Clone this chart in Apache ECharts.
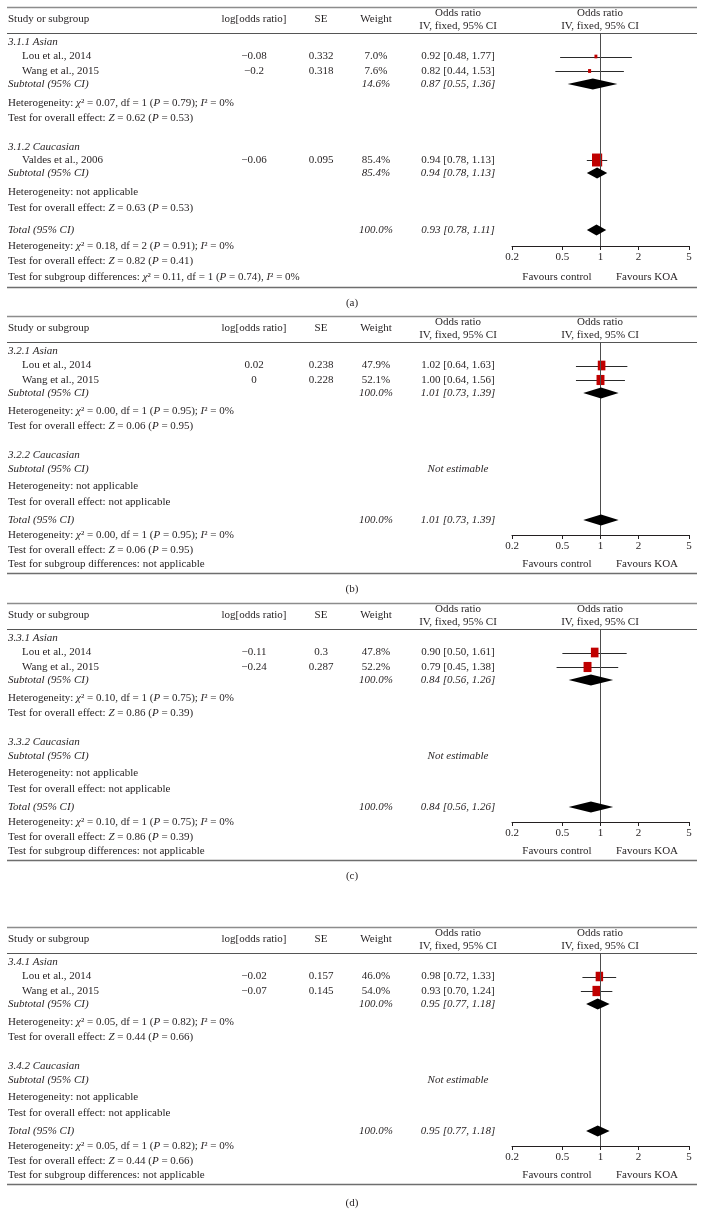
<!DOCTYPE html>
<html>
<head>
<meta charset="utf-8">
<script src="https://cdn.jsdelivr.net/npm/echarts@6/dist/echarts.min.js"></script>
<style>
html,body{margin:0;padding:0;background:#fff;}
#chart{width:704px;height:1229px;}
</style>
</head>
<body>
<div id="chart"></div>
<script>
// ---------------- DATA ----------------
const panelTags = ['(a)', '(b)', '(c)', '(d)'];
const subgroupLabels = [
  ['3.1.1 Asian', '3.1.2 Caucasian'],
  ['3.2.1 Asian', '3.2.2 Caucasian'],
  ['3.3.1 Asian', '3.3.2 Caucasian'],
  ['3.4.1 Asian', '3.4.2 Caucasian']
];
const studyNames = [
  ['Lou et al., 2014', 'Wang et al., 2015', 'Valdes et al., 2006'],
  ['Lou et al., 2014', 'Wang et al., 2015'],
  ['Lou et al., 2014', 'Wang et al., 2015'],
  ['Lou et al., 2014', 'Wang et al., 2015']
];
const studySubgroup = [[0, 0, 1], [0, 0], [0, 0], [0, 0]];
const logOddsRatio = [[-0.08, -0.2, -0.06], [0.02, 0], [-0.11, -0.24], [-0.02, -0.07]];
const standardError = [[0.332, 0.318, 0.095], [0.238, 0.228], [0.3, 0.287], [0.157, 0.145]];
const studyWeight = [[7.0, 7.6, 85.4], [47.9, 52.1], [47.8, 52.2], [46.0, 54.0]];
const studyOR = [[0.92, 0.82, 0.94], [1.02, 1.00], [0.90, 0.79], [0.98, 0.93]];
const studyLower = [[0.48, 0.44, 0.78], [0.64, 0.64], [0.50, 0.45], [0.72, 0.70]];
const studyUpper = [[1.77, 1.53, 1.13], [1.63, 1.56], [1.61, 1.38], [1.33, 1.24]];

const subtotalWeight = [[14.6, 85.4], [100.0, null], [100.0, null], [100.0, null]];
const subtotalOR = [[0.87, 0.94], [1.01, null], [0.84, null], [0.95, null]];
const subtotalLower = [[0.55, 0.78], [0.73, null], [0.56, null], [0.77, null]];
const subtotalUpper = [[1.36, 1.13], [1.39, null], [1.26, null], [1.18, null]];
const subgroupHeterogeneity = [
  ['{i|χ}² = 0.07, df = 1 ({i|P} = 0.79); {i|I}² = 0%', 'not applicable'],
  ['{i|χ}² = 0.00, df = 1 ({i|P} = 0.95); {i|I}² = 0%', 'not applicable'],
  ['{i|χ}² = 0.10, df = 1 ({i|P} = 0.75); {i|I}² = 0%', 'not applicable'],
  ['{i|χ}² = 0.05, df = 1 ({i|P} = 0.82); {i|I}² = 0%', 'not applicable']
];
const subgroupEffect = [
  ['{i|Z} = 0.62 ({i|P} = 0.53)', '{i|Z} = 0.63 ({i|P} = 0.53)'],
  ['{i|Z} = 0.06 ({i|P} = 0.95)', 'not applicable'],
  ['{i|Z} = 0.86 ({i|P} = 0.39)', 'not applicable'],
  ['{i|Z} = 0.44 ({i|P} = 0.66)', 'not applicable']
];

const totalWeight = [100.0, 100.0, 100.0, 100.0];
const totalOR = [0.93, 1.01, 0.84, 0.95];
const totalLower = [0.78, 0.73, 0.56, 0.77];
const totalUpper = [1.11, 1.39, 1.26, 1.18];
const totalHeterogeneity = [
  '{i|χ}² = 0.18, df = 2 ({i|P} = 0.91); {i|I}² = 0%',
  '{i|χ}² = 0.00, df = 1 ({i|P} = 0.95); {i|I}² = 0%',
  '{i|χ}² = 0.10, df = 1 ({i|P} = 0.75); {i|I}² = 0%',
  '{i|χ}² = 0.05, df = 1 ({i|P} = 0.82); {i|I}² = 0%'
];
const totalEffect = [
  '{i|Z} = 0.82 ({i|P} = 0.41)',
  '{i|Z} = 0.06 ({i|P} = 0.95)',
  '{i|Z} = 0.86 ({i|P} = 0.39)',
  '{i|Z} = 0.44 ({i|P} = 0.66)'
];
const subgroupDifferences = [
  '{i|χ}² = 0.11, df = 1 ({i|P} = 0.74), {i|I}² = 0%',
  'not applicable',
  'not applicable',
  'not applicable'
];

const tickValues = [0.2, 0.5, 1, 2, 5];
const favoursLabels = ['Favours control', 'Favours KOA'];
const columnHeaders = ['Study or subgroup', 'log[odds ratio]', 'SE', 'Weight'];
const orHeader = ['Odds ratio', 'IV, fixed, 95% CI'];

// ---------------- LAYOUT / STYLE ----------------
const FONT = '"Liberation Serif", "DejaVu Serif", serif';
const FS = 11;
const INK = '#231f20';
const RED = '#c00000';
const panelTop = [7, 316, 603, 927];
const captionGap = [16, 16, 16, 19];
const layoutA = { rows: [35, 49.5, 64, 77, 96, 111, 140, 153, 166, 185, 201, 223, 239, 254, 270], bottom: 280 };
const layoutB = { rows: [35, 49.5, 64, 77, 95, 110, 139, 153, 170, 186, 204, 219, 234, 248], bottom: 257 };
const panelLayouts = [layoutA, layoutB, layoutB, layoutB];
const COL = { study: 8, indent: 22, logOR: 254, se: 321, weight: 376, or: 458, plot: 600 };
const PLOT_LEFT = 512, PLOT_WIDTH = 177;
const HEADER_BOTTOM = 26;
const LINE_L = 7, LINE_R = 697;

const RICH = {
  i: { fontFamily: FONT, fontSize: FS, fontStyle: 'italic', fill: INK },
  n: { fontFamily: FONT, fontSize: FS, fontStyle: 'normal', fill: INK }
};

function txt(x, y, text, align, italic) {
  return {
    type: 'text', x: x, y: y, silent: true, z: 10,
    style: {
      text: text, fontFamily: FONT, fontSize: FS, fontStyle: italic ? 'italic' : 'normal',
      fill: INK, align: align || 'left', verticalAlign: 'middle', rich: RICH
    }
  };
}
function hline(y, color, w) {
  return { type: 'line', silent: true, z: 5, shape: { x1: LINE_L, y1: y, x2: LINE_R, y2: y }, style: { stroke: color, lineWidth: w } };
}
function fmtSigned(v) { return (v < 0 ? '\u2212' : '') + String(Math.abs(v)); }
function fmtCI(o, l, h) { return o.toFixed(2) + ' [' + l.toFixed(2) + ', ' + h.toFixed(2) + ']'; }
function fmtW(w) { return w.toFixed(1) + '%'; }

function buildRows(p) {
  const rows = [];
  subgroupLabels[p].forEach(function (lab, g) {
    rows.push({ kind: 'group', g: g });
    studyNames[p].forEach(function (n, s) { if (studySubgroup[p][s] === g) rows.push({ kind: 'study', s: s }); });
    rows.push({ kind: 'sub', g: g });
    rows.push({ kind: 'het', g: g });
    rows.push({ kind: 'eff', g: g });
  });
  rows.push({ kind: 'total' }, { kind: 'thet' }, { kind: 'teff' }, { kind: 'tdiff' });
  rows.forEach(function (r, i) { r.off = panelLayouts[p].rows[i]; });
  return rows;
}

function studyRender(params, api) {
  const y = api.value(3);
  const lo = api.coord([api.value(1), y]);
  const hi = api.coord([api.value(2), y]);
  const c = api.coord([api.value(0), y]);
  const w = api.value(4);
  const sw = 1.1 * Math.sqrt(w), sh = 1.4 * Math.sqrt(w);
  return {
    type: 'group', children: [
      { type: 'line', shape: { x1: lo[0], y1: Math.round(lo[1]) + 0.5, x2: hi[0], y2: Math.round(hi[1]) + 0.5 }, style: { stroke: '#2a2a2a', lineWidth: 1 } },
      { type: 'rect', shape: { x: c[0] - sw / 2, y: c[1] - sh / 2, width: sw, height: sh }, style: { fill: RED } }
    ]
  };
}
function diamondRender(params, api) {
  const y = api.value(3);
  const l = api.coord([api.value(1), y]);
  const r = api.coord([api.value(2), y]);
  const c = api.coord([api.value(0), y]);
  const h = 5.5;
  return {
    type: 'polygon',
    shape: { points: [[l[0], c[1]], [c[0], c[1] - h], [r[0], c[1]], [c[0], c[1] + h]] },
    style: { fill: '#000' }
  };
}

const grids = [], xAxes = [], yAxes = [], series = [], graphics = [];

for (let p = 0; p < 4; p++) {
  const top = panelTop[p];
  const L = panelLayouts[p];
  const rows = buildRows(p);
  const axisOff = rows.find(function (r) { return r.kind === 'thet'; }).off;
  const tdiffOff = rows.find(function (r) { return r.kind === 'tdiff'; }).off;

  // header + rules
  graphics.push(hline(top + 0.5, '#8c8c8c', 1.3));
  graphics.push(hline(top + HEADER_BOTTOM + 0.5, '#555', 1));
  graphics.push(hline(top + L.bottom + 0.5, '#6e6e6e', 1.3));
  graphics.push(txt(COL.study, top + 12.5, columnHeaders[0], 'left'));
  graphics.push(txt(COL.logOR, top + 12.5, columnHeaders[1], 'center'));
  graphics.push(txt(COL.se, top + 12.5, columnHeaders[2], 'center'));
  graphics.push(txt(COL.weight, top + 12.5, columnHeaders[3], 'center'));
  graphics.push(txt(COL.or, top + 6.5, orHeader[0], 'center'));
  graphics.push(txt(COL.or, top + 19.5, orHeader[1], 'center'));
  graphics.push(txt(COL.plot, top + 6.5, orHeader[0], 'center'));
  graphics.push(txt(COL.plot, top + 19.5, orHeader[1], 'center'));
  graphics.push(txt(352, top + L.bottom + captionGap[p], panelTags[p], 'center'));

  const studyData = [], diamondData = [];
  rows.forEach(function (r) {
    const y = top + r.off;
    if (r.kind === 'group') {
      graphics.push(txt(COL.study, y, subgroupLabels[p][r.g], 'left', true));
    } else if (r.kind === 'study') {
      const s = r.s;
      graphics.push(txt(COL.indent, y, studyNames[p][s], 'left'));
      graphics.push(txt(COL.logOR, y, fmtSigned(logOddsRatio[p][s]), 'center'));
      graphics.push(txt(COL.se, y, String(standardError[p][s]), 'center'));
      graphics.push(txt(COL.weight, y, fmtW(studyWeight[p][s]), 'center'));
      graphics.push(txt(COL.or, y, fmtCI(studyOR[p][s], studyLower[p][s], studyUpper[p][s]), 'center'));
      studyData.push([studyOR[p][s], studyLower[p][s], studyUpper[p][s], r.off, studyWeight[p][s]]);
    } else if (r.kind === 'sub') {
      graphics.push(txt(COL.study, y, 'Subtotal (95% CI)', 'left', true));
      if (subtotalOR[p][r.g] !== null) {
        graphics.push(txt(COL.weight, y, fmtW(subtotalWeight[p][r.g]), 'center', true));
        graphics.push(txt(COL.or, y, fmtCI(subtotalOR[p][r.g], subtotalLower[p][r.g], subtotalUpper[p][r.g]), 'center', true));
        diamondData.push([subtotalOR[p][r.g], subtotalLower[p][r.g], subtotalUpper[p][r.g], r.off]);
      } else {
        graphics.push(txt(COL.or, y, 'Not estimable', 'center', true));
      }
    } else if (r.kind === 'het') {
      graphics.push(txt(COL.study, y, 'Heterogeneity: ' + subgroupHeterogeneity[p][r.g], 'left'));
    } else if (r.kind === 'eff') {
      graphics.push(txt(COL.study, y, 'Test for overall effect: ' + subgroupEffect[p][r.g], 'left'));
    } else if (r.kind === 'total') {
      graphics.push(txt(COL.study, y, 'Total (95% CI)', 'left', true));
      graphics.push(txt(COL.weight, y, fmtW(totalWeight[p]), 'center', true));
      graphics.push(txt(COL.or, y, fmtCI(totalOR[p], totalLower[p], totalUpper[p]), 'center', true));
      diamondData.push([totalOR[p], totalLower[p], totalUpper[p], r.off]);
    } else if (r.kind === 'thet') {
      graphics.push(txt(COL.study, y, 'Heterogeneity: ' + totalHeterogeneity[p], 'left'));
    } else if (r.kind === 'teff') {
      graphics.push(txt(COL.study, y, 'Test for overall effect: ' + totalEffect[p], 'left'));
    } else if (r.kind === 'tdiff') {
      graphics.push(txt(COL.study, y, 'Test for subgroup differences: ' + subgroupDifferences[p], 'left'));
    }
  });

  graphics.push(txt(557, top + tdiffOff, favoursLabels[0], 'center'));
  graphics.push(txt(647, top + tdiffOff, favoursLabels[1], 'center'));

  grids.push({ left: PLOT_LEFT, width: PLOT_WIDTH, top: top + HEADER_BOTTOM, height: axisOff - HEADER_BOTTOM });
  xAxes.push({
    gridIndex: p, type: 'log', logBase: 10, min: 0.2, max: 5,
    axisLine: { show: true, lineStyle: { color: INK, width: 1 } },
    axisTick: { show: true, length: 4, customValues: tickValues, lineStyle: { color: INK, width: 1 } },
    minorTick: { show: false },
    axisLabel: {
      show: true, customValues: tickValues, margin: 6, fontFamily: FONT, fontSize: FS, color: INK,
      formatter: function (v) { return String(Number(Number(v).toPrecision(6))); }
    },
    splitLine: { show: false }
  });
  yAxes.push({ gridIndex: p, type: 'value', min: HEADER_BOTTOM, max: axisOff, inverse: true, show: false });

  series.push({
    type: 'custom', xAxisIndex: p, yAxisIndex: p, renderItem: studyRender, data: studyData,
    encode: { x: [0, 1, 2], y: 3 }, clip: false, silent: true, z: 4,
    markLine: {
      silent: true, symbol: 'none', animation: false,
      label: { show: false },
      lineStyle: { color: '#4d4d4d', width: 1, type: 'solid' },
      emphasis: { disabled: true },
      data: [{ xAxis: 1 }]
    }
  });
  series.push({
    type: 'custom', xAxisIndex: p, yAxisIndex: p, renderItem: diamondRender, data: diamondData,
    encode: { x: [0, 1, 2], y: 3 }, clip: false, silent: true, z: 5
  });
}

const chart = echarts.init(document.getElementById('chart'), null, { renderer: 'canvas', width: 704, height: 1229 });
chart.setOption({
  animation: false,
  backgroundColor: '#ffffff',
  grid: grids,
  xAxis: xAxes,
  yAxis: yAxes,
  series: series,
  graphic: { elements: graphics }
});
</script>
</body>
</html>
